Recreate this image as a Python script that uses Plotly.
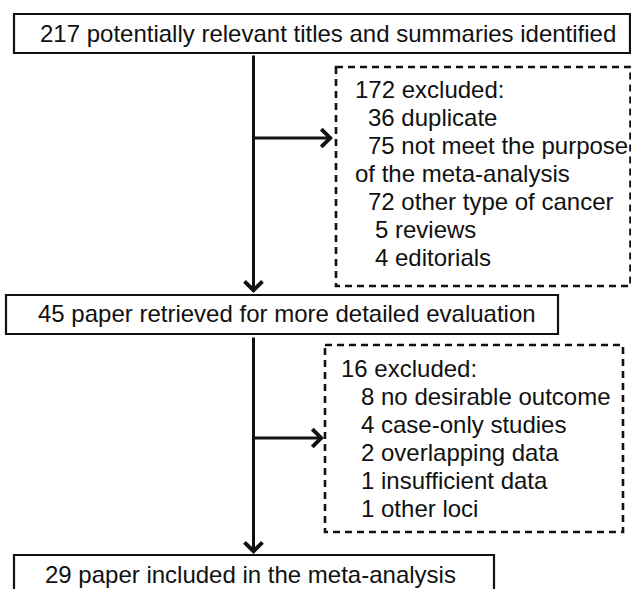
import plotly.graph_objects as go

# ---------------- data ----------------
identified = 217
retrieved = 45
included = 29

excluded_1_total = 172
excluded_1_reasons = ["duplicate", "not meet the purpose", "other type of cancer", "reviews", "editorials"]
excluded_1_counts = [36, 75, 72, 5, 4]

excluded_2_total = 16
excluded_2_reasons = ["no desirable outcome", "case-only studies", "overlapping data",
                      "insufficient data", "other loci"]
excluded_2_counts = [8, 4, 2, 1, 1]

main_labels = [
    f"{identified} potentially relevant titles and summaries identified",
    f"{retrieved} paper retrieved for more detailed evaluation",
    f"{included} paper included in the meta-analysis",
]

excl1_lines = [f"{excluded_1_total} excluded:",
               f"{excluded_1_counts[0]} {excluded_1_reasons[0]}",
               f"{excluded_1_counts[1]} {excluded_1_reasons[1]}",
               "of the meta-analysis",
               f"{excluded_1_counts[2]} {excluded_1_reasons[2]}",
               f"{excluded_1_counts[3]} {excluded_1_reasons[3]}",
               f"{excluded_1_counts[4]} {excluded_1_reasons[4]}"]
excl2_lines = [f"{excluded_2_total} excluded:"] + [f"{c} {r}" for c, r in zip(excluded_2_counts, excluded_2_reasons)]

# ---------------- layout (pixel coordinates) ----------------
FONT = dict(family="Liberation Sans, Arial, sans-serif", size=24, color="#111111")
SPACE = 6.67

main_boxes = [(14, 630, 14, 53), (6, 558, 295, 334), (14, 494, 555, 600)]
main_text_pos = [(38, 42), (36, 322), (43, 583)]   # left x, baseline y

dash_boxes = [(336, 630.5, 67, 286), (325, 623, 345, 532)]
excl1_left, excl1_base0, excl1_indent = 353, 98, [0, 2, 2, 0, 2, 3, 3]
excl2_left, excl2_base0, excl2_indent = 339, 377, [0, 3, 3, 3, 3, 3]
LINE_STEP = 28

fig = go.Figure()
shapes = []
annotations = []

for (x0, x1, y0, y1) in main_boxes:
    shapes.append(dict(type="rect", xref="x", yref="y", x0=x0, x1=x1, y0=y0, y1=y1,
                       line=dict(color="#111111", width=2.2), fillcolor="white", layer="above"))
for (x0, x1, y0, y1) in dash_boxes:
    shapes.append(dict(type="rect", xref="x", yref="y", x0=x0, x1=x1, y0=y0, y1=y1,
                       line=dict(color="#111111", width=2.6, dash="7px,5px"), layer="above"))

for label, (x, base) in zip(main_labels, main_text_pos):
    annotations.append(dict(x=x, y=base - 8.5, xref="x", yref="y", text=label, showarrow=False,
                            xanchor="left", yanchor="middle", font=FONT))

for i, line in enumerate(excl1_lines):
    annotations.append(dict(x=excl1_left + excl1_indent[i] * SPACE, y=excl1_base0 + i * LINE_STEP - 8.5,
                            xref="x", yref="y", text=line, showarrow=False,
                            xanchor="left", yanchor="middle", font=FONT))
for i, line in enumerate(excl2_lines):
    annotations.append(dict(x=excl2_left + excl2_indent[i] * SPACE, y=excl2_base0 + i * LINE_STEP - 8.5,
                            xref="x", yref="y", text=line, showarrow=False,
                            xanchor="left", yanchor="middle", font=FONT))

# arrows: (tail x, tail y, head x, head y)
arrows = [(253.5, 54, 253.5, 293), (253.5, 138, 333, 138),
          (253.5, 336, 253.5, 554), (251.5, 438, 324, 438)]
for (ax, ay, x, y) in arrows:
    annotations.append(dict(x=x, y=y, ax=ax, ay=ay, xref="x", yref="y", axref="x", ayref="y",
                            text="", showarrow=True, arrowhead=4, arrowsize=1.15, arrowwidth=3,
                            arrowcolor="#111111", standoff=0, startstandoff=0))

fig.update_layout(
    width=631, height=589,
    margin=dict(l=0, r=0, t=0, b=0),
    paper_bgcolor="white", plot_bgcolor="white",
    xaxis=dict(range=[0, 631], visible=False, fixedrange=True),
    yaxis=dict(range=[589, 0], visible=False, fixedrange=True),
    shapes=shapes, annotations=annotations, showlegend=False,
)

fig.write_html("out.html", config={"displayModeBar": False},
               post_script="document.body.style.margin='0';document.body.style.overflow='hidden';")
